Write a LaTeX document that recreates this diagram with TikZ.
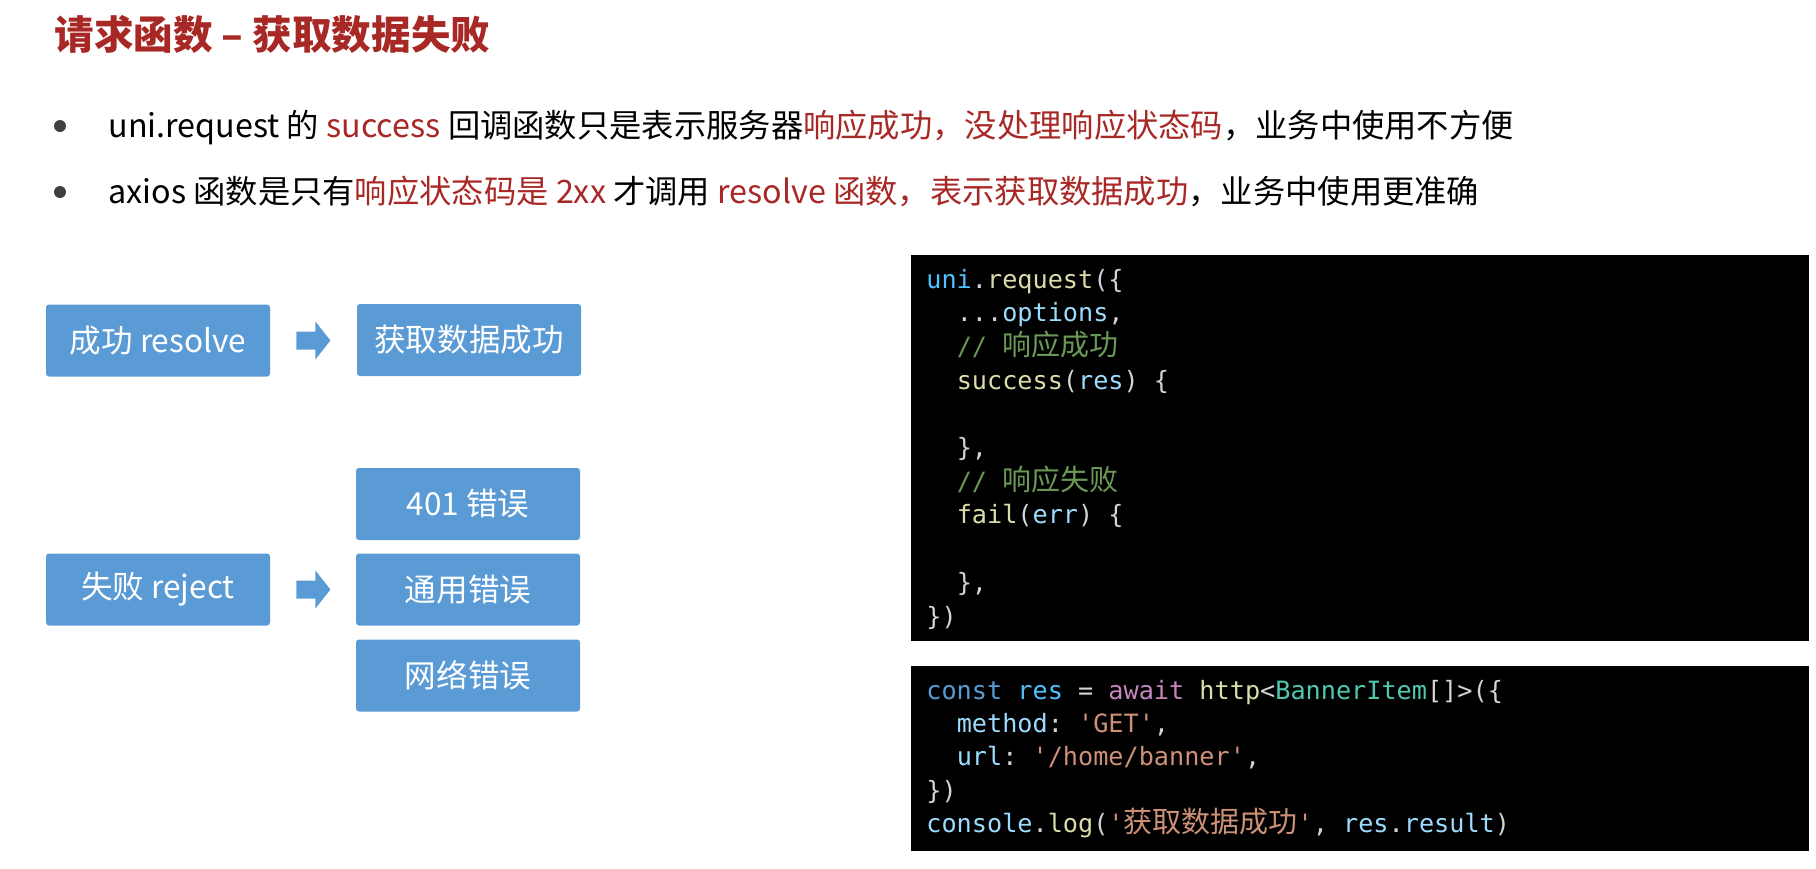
\documentclass[tikz,border=0pt]{standalone}
\usepackage{fontspec}
\setmainfont{Noto Sans CJK SC}
\setmonofont{DejaVu Sans Mono}
\newfontfamily\cjk{Noto Sans CJK SC}
\usetikzlibrary{calc}
\definecolor{titlered}{RGB}{168,40,38}
\definecolor{boxblue}{RGB}{91,155,213}
\definecolor{bulletgray}{RGB}{64,64,64}
\definecolor{cwhite}{RGB}{212,212,212}
\definecolor{cvar}{RGB}{156,220,254}
\definecolor{cglob}{RGB}{79,193,255}
\definecolor{cfunc}{RGB}{220,220,170}
\definecolor{ccomment}{RGB}{106,153,85}
\definecolor{ckw}{RGB}{86,156,214}
\definecolor{cctrl}{RGB}{197,134,192}
\definecolor{ctype}{RGB}{78,201,176}
\definecolor{cstr}{RGB}{206,145,120}
\newcommand{\cz}[1]{{\cjk\fontsize{14.5}{15}\selectfont #1}}
\newcommand{\ind}{\phantom{xx}}
\begin{document}
\begin{tikzpicture}[x=0.5pt,y=-0.5pt,
  box/.style={fill=boxblue, rounded corners=1.5pt, minimum width=112pt, minimum height=36pt,
    text=white, font=\fontsize{15.8}{16}\selectfont, inner sep=0pt},
  bullettext/.style={anchor=base west, inner sep=0pt, font=\fontsize{16.15}{17}\selectfont, text=black},
  codebg/.style={fill=black, draw=none, inner sep=0pt, anchor=north west},
  codeline/.style={anchor=base west, inner sep=0pt, text=cwhite, font=\ttfamily\fontsize{12.6}{13}\selectfont},
  blockarrow/.style={fill=boxblue}]
\useasboundingbox (0,0) rectangle (1816,868);
% title
\node[anchor=base west, inner sep=0pt, text=titlered, font=\bfseries\fontsize{19.8}{20}\selectfont] (title) at (54,49) {请求函数 – 获取数据失败};
% bullets
\fill[bulletgray] (60,126) coordinate (b1) circle (3pt);
\fill[bulletgray] (60,192) coordinate (b2) circle (3pt);
\node[bullettext] (t1) at (108,137) {uni.request 的 \textcolor{titlered}{success} 回调函数只是表示服务器\textcolor{titlered}{响应成功，没处理响应状态码}，业务中使用不方便};
\node[bullettext] (t2) at (108,203) {axios 函数是只有\textcolor{titlered}{响应状态码是 2xx} 才调用 \textcolor{titlered}{resolve 函数，表示获取数据成功}，业务中使用更准确};
% boxes
\node[box] (s1) at (158,340.5) {成功 resolve};
\node[box] (g1) at (469,340) {获取数据成功};
\node[box] (f1) at (158,589.5) {失败 reject};
\node[box] (e1) at (468,504) {401 错误};
\node[box] (e2) at (468,589.5) {通用错误};
\node[box] (e3) at (468,675.5) {网络错误};
% block arrows
\fill[blockarrow] ($(s1.east)+(26,-9)$) -- ++(19,0) -- ++(0,-10) -- ++(15,19) -- ++(-15,19) -- ++(0,-10) -- ++(-19,0) -- cycle;
\fill[blockarrow] ($(f1.east)+(26,-9)$) -- ++(19,0) -- ++(0,-10) -- ++(15,19) -- ++(-15,19) -- ++(0,-10) -- ++(-19,0) -- cycle;
% code block 1
\node[codebg, minimum width=449pt, minimum height=193pt] (cb1) at (911,255) {};
\node[codeline] (a0) at (926,288) {\textcolor{cglob}{uni}.\textcolor{cfunc}{request}(\{};
\node[codeline] (a1) at (926,321.7) {\ind...\textcolor{cvar}{options},};
\node[codeline] (a2) at (926,355.4) {\ind\textcolor{ccomment}{// \cz{响应成功}}};
\node[codeline] (a3) at (926,389.1) {\ind\textcolor{cfunc}{success}(\textcolor{cvar}{res}) \{};
\node[codeline] (a5) at (926,456.5) {\ind\},};
\node[codeline] (a6) at (926,490.2) {\ind\textcolor{ccomment}{// \cz{响应失败}}};
\node[codeline] (a7) at (926,523.9) {\ind\textcolor{cfunc}{fail}(\textcolor{cvar}{err}) \{};
\node[codeline] (a9) at (926,591.3) {\ind\},};
\node[codeline] (a10) at (926,625) {\})};
% code block 2
\node[codebg, minimum width=449pt, minimum height=92.5pt] (cb2) at (911,666) {};
\node[codeline] (c0) at (926,699) {\textcolor{ckw}{const} \textcolor{cglob}{res} = \textcolor{cctrl}{await} \textcolor{cfunc}{http}<\textcolor{ctype}{BannerItem}[]>(\{};
\node[codeline] (c1) at (926,732.4) {\ind\textcolor{cvar}{method}: \textcolor{cstr}{'GET'},};
\node[codeline] (c2) at (926,765.8) {\ind\textcolor{cvar}{url}: \textcolor{cstr}{'/home/banner'},};
\node[codeline] (c3) at (926,799.2) {\})};
\node[codeline] (c4) at (926,832.6) {\textcolor{cvar}{console}.\textcolor{cfunc}{log}(\textcolor{cstr}{'\cz{获取数据成功}'}, \textcolor{cvar}{res}.\textcolor{cvar}{result})};
\end{tikzpicture}
\end{document}
